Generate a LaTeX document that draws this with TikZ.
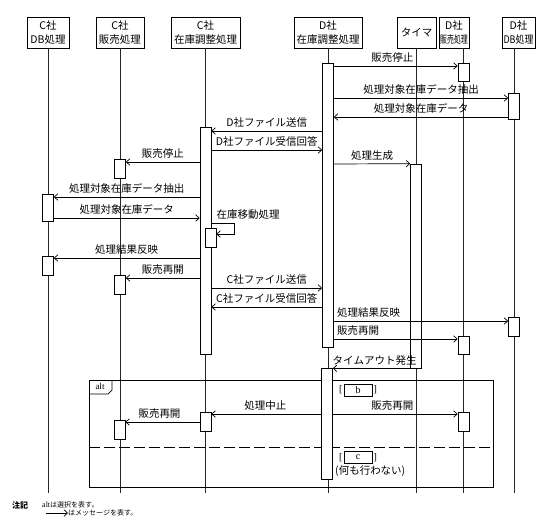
\documentclass[tikz,border=0pt]{standalone}
\usepackage{fontspec}
\usepackage{graphicx}
\setmainfont{Noto Sans CJK JP}
\newfontfamily\lat{Liberation Serif}
\usetikzlibrary{arrows.meta}
\tikzset{
 hdr/.style={draw, align=center, inner sep=0pt, minimum height=31pt, font=\fontsize{10.5}{13.5}\selectfont},
 life/.style={draw=black!85, line width=0.7pt},
 act/.style={draw, fill=white, minimum width=11pt, inner sep=0pt, line width=0.7pt},
 msg/.style={-{Straight Barb[length=3.5pt,width=6.5pt]}, line width=0.7pt},
 lbl/.style={font=\fontsize{10.5}{12}\selectfont, inner sep=1pt, above=2pt},
 lblL/.style={font=\fontsize{10.5}{12}\selectfont, inner sep=1pt, anchor=south west, yshift=2pt},
 guard/.style={draw, minimum width=28pt, minimum height=12pt, inner sep=0pt, line width=0.8pt, font=\lat\fontsize{10}{10}\selectfont},
 brk/.style={inner sep=1pt, font=\lat\fontsize{10}{10}\selectfont},
 frm/.style={draw, line width=0.7pt},
}
\begin{document}
\begin{tikzpicture}[x=1pt,y=-1pt]
\useasboundingbox (0,0) rectangle (542,531);
% headers
\node[hdr, minimum width=42pt] (CDB) at (48,32.5) {C社\\DB処理};
\node[hdr, minimum width=48pt] (CHan) at (120,32.5) {C社\\販売処理};
\node[hdr, minimum width=69pt] (CZai) at (205.5,32.5) {C社\\在庫調整処理};
\node[hdr, minimum width=68pt] (DZai) at (328,32.5) {D社\\在庫調整処理};
\node[hdr, minimum width=39pt] (Tmr) at (416.5,32.5) {タイマ};
\node[hdr, minimum width=30pt] (DHan) at (454,32.5) {D社\\\scalebox{0.66}[1]{販売処理}};
\node[hdr, minimum width=33pt] (DDB) at (518.5,32.5) {D社\\\scalebox{0.85}[1]{DB処理}};
% lifeline ends
\coordinate (CDBe) at (48,493);
\coordinate (CHane) at (120,493);
\coordinate (CZaie) at (205.5,493);
\coordinate (DZaie) at (328,493);
\coordinate (Tmre) at (416,493);
\coordinate (DHane) at (463.5,493);
\coordinate (DDBe) at (514,493);
\draw[life] (CDB.south) -- (CDBe);
\draw[life] (CHan.south) -- (CHane);
\draw[life] (CZai.south) -- (CZaie);
\draw[life] (DZai.south) -- (DZaie);
\draw[life] (Tmr.south -| Tmre) -- (Tmre);
\draw[life] (DHan.south -| DHane) -- (DHane);
\draw[life] (DDB.south -| DDBe) -- (DDBe);
% alt frame
\node[frm, minimum width=404pt, minimum height=107pt, anchor=north west, inner sep=0pt] (altf) at (89,380) {};
\draw[frm] (altf.north west) ++(0,14) -- ++(19,0) -- ++(4,-4) -- ++(0,-10);
\node[inner sep=0pt, font=\lat\fontsize{9}{9}\selectfont] (altl) at (100,386.5) {alt};
\draw[frm, dash pattern=on 11pt off 4pt] (altf.west |- 0,447) -- (altf.east |- 0,447);
% activations
\node[act, minimum height=284pt] (DZ1) at (328,205) {};
\node[act, minimum height=18pt] (DH1) at (463.5,72) {};
\node[act, minimum height=26pt] (DD1) at (514,106) {};
\node[act, minimum height=227pt] (CZ1) at (205.5,240.5) {};
\node[act, minimum height=204pt] (Tm1) at (416,266) {};
\node[act, minimum height=19pt] (CH1) at (120,168.5) {};
\node[act, minimum height=27pt] (CD1) at (48,207.5) {};
\node[act, minimum height=19pt] (CZ2) at (210.5,237.5) {};
\node[act, minimum height=19pt] (CD2) at (48,265.5) {};
\node[act, minimum height=19pt] (CH2) at (120,284.5) {};
\node[act, minimum height=19pt] (DD2) at (514,326.5) {};
\node[act, minimum height=18pt] (DH2) at (463.5,345) {};
\node[act, minimum height=111pt] (DZ2) at (327,423.5) {};
\node[act, minimum height=19pt] (CZ3) at (205.5,421.5) {};
\node[act, minimum height=19pt] (CH3) at (119.5,429.5) {};
\node[act, minimum height=19pt] (DH3) at (463.5,421.5) {};
% messages
\draw[msg] (DZ1.east |- 0,66) -- node[lbl, xshift=-3.5pt] {販売停止} (DH1.west |- 0,66);
\draw[msg] (DZ1.east |- 0,98) -- node[lbl] {処理対象在庫データ抽出} (DD1.west |- 0,98);
\draw[msg] (DD1.west |- 0,117) -- node[lbl] {処理対象在庫データ} (DZ1.east |- 0,117);
\draw[msg] (DZ1.west |- 0,131) -- node[lbl] {D社ファイル送信} (CZ1.east |- 0,131);
\draw[msg] (CZ1.east |- 0,150) -- node[lbl] {D社ファイル受信回答} (DZ1.west |- 0,150);
\draw[msg] (DZ1.east |- 0,164) -- node[lbl] {処理生成} (Tm1.north west);
\draw[msg] (CZ1.west |- 0,162) -- node[lbl] {販売停止} (CH1.east |- 0,162);
\draw[msg] (CZ1.west |- 0,197) -- node[lbl] {処理対象在庫データ抽出} (CD1.east |- 0,197);
\draw[msg] (CD1.east |- 0,218) -- node[lbl] {処理対象在庫データ} (CZ1.west |- 0,218);
\draw[msg] (CZ1.east |- 0,223) node[lblL, xshift=4pt] {在庫移動処理} -- (234,223) |- (CZ2.east |- 0,234);
\draw[msg] (CZ1.west |- 0,258) -- node[lbl] {処理結果反映} (CD2.east |- 0,258);
\draw[msg] (CZ1.west |- 0,278) -- node[lbl] {販売再開} (CH2.east |- 0,278);
\draw[msg] (CZ1.east |- 0,288) -- node[lbl] {C社ファイル送信} (DZ1.west |- 0,288);
\draw[msg] (DZ1.west |- 0,307) -- node[lbl] {C社ファイル受信回答} (CZ1.east |- 0,307);
\draw[msg] (DZ1.east |- 0,321) -- node[lblL, pos=0, xshift=2pt] {処理結果反映} (DD2.west |- 0,321);
\draw[msg] (DZ1.east |- 0,339) -- node[lblL, pos=0, xshift=2pt] {販売再開} (DH2.west |- 0,339);
\draw[msg] (Tm1.south west) -- node[lblL, pos=1, xshift=-1.5pt] {タイムアウト発生} (DZ2.east |- Tm1.south west);
\draw[msg] (DZ2.west |- 0,414) -- node[lbl, xshift=-1pt] {処理中止} (CZ3.east |- 0,414);
\draw[msg] (DZ2.east |- 0,414) -- node[lbl, xshift=-3pt] {販売再開} (DH3.west |- 0,414);
\draw[msg] (CZ3.west |- 0,422) -- node[lbl, xshift=-3pt] {販売再開} (CH3.east |- 0,422);
% guards
\node[guard] (gb) at (358,390) {b};
\node[brk, anchor=east] (gbl) at (gb.west) {[};
\node[brk, anchor=west] (gbr) at (gb.east) {]};
\node[guard] (gc) at (358,457.5) {c};
\node[brk, anchor=east] (gcl) at (gc.west) {[};
\node[brk, anchor=west] (gcr) at (gc.east) {]};
\node[anchor=west, inner sep=0pt, font=\fontsize{10.5}{12}\selectfont] (nothing) at (335,471) {(何も行わない)};
% legend
\node[anchor=west, inner sep=0pt, font=\fontsize{8}{9}\selectfont\bfseries] (note) at (12,505) {注記};
\node[anchor=west, inner sep=0pt, font=\fontsize{7}{8}\selectfont] (note1) at (42,505) {{\lat\fontsize{8}{8}\selectfont alt}は選択を表す。};
\coordinate (lgA) at (46,513);
\coordinate (lgB) at (68,513);
\draw[msg] (lgA) -- (lgB);
\node[anchor=west, inner sep=0pt, font=\fontsize{7}{8}\selectfont] (note2) at (68,513) {はメッセージを表す。};
\end{tikzpicture}
\end{document}
